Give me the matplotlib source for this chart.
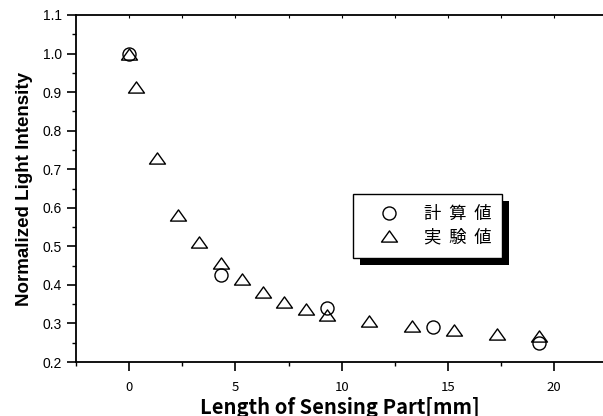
import numpy as np
import matplotlib
matplotlib.use('Agg')
import matplotlib.pyplot as plt
from matplotlib.patches import Rectangle
from matplotlib.path import Path

# calculated values (circles)
calc_x = [0.0, 4.3, 9.3, 14.3, 19.3]
calc_y = [1.0, 0.426, 0.340, 0.290, 0.250]

# measured values (triangles)
meas_x = [0.0, 0.33, 1.3, 2.3, 3.3, 4.3, 5.3, 6.3, 7.3, 8.3, 9.3,
          11.3, 13.3, 15.3, 17.3, 19.3]
meas_y = [1.0, 0.913, 0.729, 0.582, 0.512, 0.457, 0.415, 0.382, 0.356,
          0.337, 0.322, 0.306, 0.294, 0.284, 0.273, 0.267]

calc_label = '計  算  値'
meas_label = '実  験  値'
xlabel = 'Length of Sensing Part[mm]'
ylabel = 'Normalized Light Intensity'

jp = ['Noto Sans CJK JP', 'DejaVu Sans']
plt.rcParams['font.family'] = ['Liberation Sans', 'DejaVu Sans']

fig = plt.figure(figsize=(6.03, 4.16), dpi=100)
ax = fig.add_axes([76 / 603, 54 / 416, 1 - 76 / 603, 347 / 416])

# flat open triangle
tri = Path([(-1, -0.7), (1, -0.7), (0, 0.7), (-1, -0.7)], closed=True)
ax.plot(calc_x, calc_y, 'o', ms=9.4, mfc='none', mec='k', mew=1.0,
        label=calc_label)
ax.plot(meas_x, meas_y, ls='none', marker=tri, ms=11.5, mfc='none',
        mec='k', mew=1.0, label=meas_label)

ax.set_xlim(-2.5, 22.3)
ax.set_ylim(0.2, 1.1)
ax.set_xticks([0, 5, 10, 15, 20])
ax.set_xticks(np.arange(-2.5, 22.5, 2.5), minor=True)
ax.set_yticks(np.arange(0.2, 1.11, 0.1))
ax.set_yticks(np.arange(0.2, 1.11, 0.05), minor=True)
ax.yaxis.set_major_formatter(matplotlib.ticker.FormatStrFormatter('%.1f'))

for s in ['left', 'bottom', 'top']:
    ax.spines[s].set_linewidth(1.3)
ax.spines['right'].set_visible(False)

ax.tick_params(which='major', direction='out', length=6.5, width=1.2)
ax.tick_params(which='minor', direction='out', length=3, width=1.0)
ax.tick_params(axis='y', labelsize=10, pad=3.5)
ax.tick_params(axis='x', labelsize=9.5, pad=7.5)
for t in ax.get_xticklabels():
    t.set_family(jp)

top = ax.secondary_xaxis('top')
top.set_xticks(np.arange(0, 22.5, 2.5))
top.tick_params(direction='in', length=2, width=0.8, labeltop=False)
top.spines['top'].set_visible(False)

ax.set_ylabel(ylabel, fontsize=13.5, fontweight='bold')
ax.yaxis.set_label_coords(-0.082, 0.5)
ax.set_xlabel(xlabel, fontsize=14.5, fontweight='bold', family=jp,
              labelpad=2)

leg = ax.legend(loc='upper left', bbox_to_anchor=(0.526, 0.484),
                borderaxespad=0, frameon=True, fancybox=False,
                edgecolor='k', framealpha=1,
                prop={'family': jp, 'size': 12.5},
                handlelength=2.8, handletextpad=0.6, borderpad=0.65,
                labelspacing=0.3)
leg.get_frame().set_linewidth(1.0)
leg.set_zorder(6)

# solid drop shadow behind the legend box
fig.canvas.draw()
bb = leg.get_window_extent()
shadow = Rectangle((bb.x0 + 7, bb.y0 - 7), bb.width, bb.height,
                   transform=None, facecolor='k', edgecolor='none',
                   zorder=5)
ax.add_artist(shadow)

fig.savefig('out.png', dpi=100)
